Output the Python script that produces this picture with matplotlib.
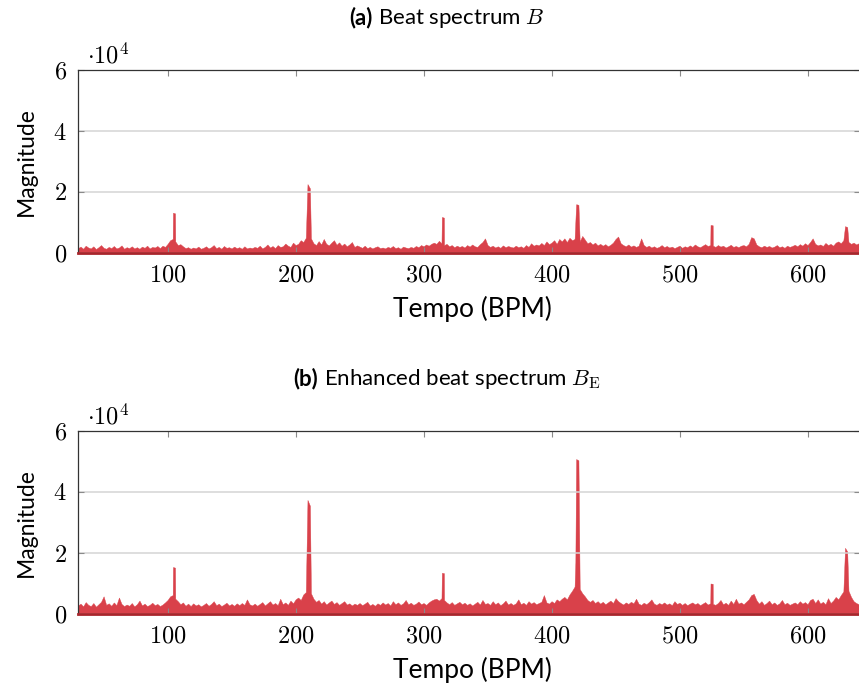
import numpy as np
import matplotlib
matplotlib.use('Agg')
import matplotlib.pyplot as plt
from matplotlib.ticker import FuncFormatter

plt.rcParams['font.family'] = ['Lato', 'DejaVu Sans']
plt.rcParams['mathtext.fontset'] = 'cm'

# tempo grid (BPM) for the noise floor, values in units of 1e3
BPM_START, BPM_STEP = 30, 2

NOISE_A = [
    1.6, 2.1, 1.4, 2.4, 1.8, 1.5, 2.2, 1.3, 1.9, 2.6,
    1.7, 1.4, 2.0, 1.6, 2.3, 1.5, 1.8, 2.5, 1.4, 1.9,
    1.6, 2.2, 1.5, 1.9, 1.4, 2.1, 1.7, 2.4, 1.5, 2.0,
    1.8, 2.3, 1.6, 2.4, 2.0, 3.0, 4.2, 4.6, 3.8, 2.6,
    2.9, 2.2, 1.6, 1.9, 1.4, 1.8, 1.5, 2.1, 1.4, 1.7,
    2.2, 1.5, 1.9, 2.6, 1.6, 2.0, 1.4, 2.3, 1.7, 1.9,
    1.5, 2.1, 1.6, 1.9, 1.4, 2.2, 1.5, 1.8, 1.6, 2.0,
    1.7, 2.4, 1.5, 2.0, 2.8, 1.8, 2.3, 1.6, 2.6, 2.0,
    2.2, 3.1, 2.4, 2.0, 3.4, 2.6, 3.0, 4.2, 3.6, 5.0,
    3.5, 4.8, 3.2, 2.6, 3.9, 2.8, 4.6, 3.0, 2.5, 3.4,
    4.2, 2.7, 3.5, 2.4, 3.1, 2.2, 2.8, 3.6, 2.0, 2.5,
    2.1, 1.7, 2.4, 1.6, 2.0, 1.5, 1.9, 2.2, 1.6, 1.8,
    1.5, 2.0, 1.7, 2.3, 1.6, 1.9, 1.4, 2.1, 1.8, 1.6,
    2.0, 1.7, 2.3, 1.9, 2.6, 2.2, 2.8, 2.4, 3.0, 3.4,
    3.0, 4.0, 3.2, 2.6, 3.0, 2.2, 2.6, 1.9, 2.4, 2.0,
    2.3, 1.8, 2.6, 2.1, 2.8, 2.2, 2.0, 2.9, 3.6, 4.8,
    2.6, 2.0, 2.4, 1.8, 2.2, 1.7, 2.5, 1.9, 2.3, 2.0,
    1.8, 2.4, 1.9, 2.2, 1.7, 2.6, 2.0, 3.2, 2.4, 2.8,
    2.5, 3.3, 2.6, 3.8, 2.9, 3.4, 4.2, 3.0, 4.6, 3.8,
    4.8, 3.6, 5.0, 4.2, 4.6, 4.0, 3.8, 5.6, 4.4, 3.2,
    3.6, 2.8, 3.4, 2.5, 3.0, 2.4, 2.9, 2.2, 2.7, 3.4,
    4.6, 5.4, 3.2, 2.6, 2.2, 2.8, 2.1, 2.5, 2.0, 2.4,
    4.8, 2.6, 2.0, 2.4, 1.8, 2.2, 1.7, 2.0, 2.6, 1.9,
    2.3, 1.8, 2.1, 1.6, 2.0, 2.4, 1.7, 2.2, 1.9, 2.5,
    2.0, 2.8, 2.2, 1.9, 2.4, 2.9, 2.3, 2.6, 2.4, 2.0,
    2.6, 2.1, 2.4, 1.8, 2.2, 2.7, 2.0, 2.3, 1.9, 2.4,
    2.6, 2.2, 3.0, 5.2, 4.8, 2.8, 2.2, 1.9, 2.4, 2.0,
    2.3, 1.8, 2.1, 2.6, 1.9, 2.2, 1.7, 2.4, 2.0, 2.3,
    2.7, 2.2, 2.9, 2.4, 3.2, 2.6, 3.6, 4.8, 3.0, 2.5,
    2.8, 2.3, 3.3, 2.6, 3.0, 2.4, 3.4, 3.8, 3.2, 4.2,
    4.0, 3.6, 3.0, 3.4, 2.8, 3.2,
]

NOISE_B = [
    2.8, 3.4, 2.5, 3.9, 3.0, 2.6, 3.6, 2.4, 3.2, 4.0,
    5.8, 3.0, 3.5, 2.7, 3.8, 2.9, 5.4, 3.3, 2.6, 3.1,
    2.7, 3.6, 2.5, 3.2, 4.4, 2.8, 3.4, 2.6, 3.0, 3.7,
    2.9, 3.3, 2.6, 3.1, 3.8, 4.6, 5.8, 6.2, 5.0, 4.2,
    3.2, 3.8, 2.7, 3.4, 2.6, 3.5, 2.8, 3.2, 2.5, 3.0,
    3.6, 2.7, 3.3, 4.2, 2.9, 3.4, 2.6, 3.1, 3.7, 2.8,
    3.3, 2.7, 3.5, 2.9, 3.6, 3.0, 4.8, 3.2, 2.8, 3.4,
    2.7, 3.3, 3.9, 2.8, 3.5, 4.2, 3.1, 3.6, 2.9, 5.0,
    3.2, 3.8, 3.0, 4.4, 3.5, 4.8, 5.4, 4.6, 6.4, 7.2,
    7.0, 6.8, 5.0, 4.0, 4.6, 3.4, 4.2, 3.1, 3.8, 4.4,
    3.3, 3.9, 3.0, 3.6, 4.2, 3.1, 3.5, 2.8, 3.4, 3.0,
    3.6, 2.9, 3.4, 4.0, 2.8, 3.3, 2.7, 3.5, 3.0, 3.8,
    3.1, 3.6, 2.8, 4.2, 3.2, 3.8, 3.0, 3.5, 4.6, 3.2,
    3.7, 3.0, 3.4, 4.1, 3.2, 3.6, 3.0, 3.8, 4.4, 4.8,
    5.0, 4.4, 5.2, 4.6, 3.8, 3.2, 3.9, 3.0, 3.5, 4.0,
    3.2, 3.7, 3.0, 3.5, 2.8, 3.4, 4.0, 3.1, 4.6, 3.3,
    3.6, 3.0, 4.2, 3.2, 3.8, 2.9, 3.5, 4.4, 3.1, 3.6,
    3.0, 3.5, 4.8, 3.2, 3.7, 3.0, 4.2, 3.4, 3.9, 3.2,
    3.6, 4.0, 6.2, 3.8, 3.4, 4.2, 3.6, 4.8, 4.2, 5.0,
    5.6, 4.8, 6.4, 7.6, 9.0, 8.0, 8.2, 6.8, 5.8, 4.6,
    4.0, 4.6, 3.6, 4.2, 3.4, 4.0, 3.2, 3.8, 4.4, 3.6,
    5.2, 4.2, 3.6, 3.1, 3.8, 3.3, 4.0, 3.5, 5.0, 3.4,
    3.0, 3.7, 3.2, 3.9, 4.8, 3.4, 3.0, 3.6, 3.2, 3.8,
    3.1, 3.5, 2.9, 4.2, 3.3, 3.7, 3.0, 3.6, 2.9, 3.4,
    3.8, 3.2, 3.6, 2.9, 3.4, 3.9, 3.1, 3.5, 3.3, 3.0,
    3.6, 4.6, 3.2, 3.7, 3.0, 4.4, 3.3, 5.0, 3.4, 3.8,
    3.2, 4.0, 4.8, 6.2, 6.6, 4.6, 3.4, 4.2, 3.0, 3.6,
    4.4, 3.2, 3.8, 3.0, 3.5, 4.6, 3.2, 3.7, 3.0, 3.4,
    3.8, 3.2, 4.2, 3.4, 3.9, 3.2, 4.6, 5.0, 3.6, 4.8,
    3.4, 4.0, 3.2, 5.2, 3.6, 4.4, 5.6, 4.8, 6.2, 7.4,
    8.0, 7.6, 5.6, 4.2, 3.6, 3.2,
]

# narrow peaks at multiples of ~105 BPM (edges of each spike), units of 1e3
PEAK_BPM_A = [104.2, 105.8, 209.3, 211.2, 314.3, 315.9, 419.2, 421.0, 524.2, 525.9, 629.3, 631.0]
PEAK_VAL_A = [13.2, 13.0, 22.6, 21.2, 11.8, 11.6, 16.0, 15.8, 9.2, 9.1, 8.8, 8.5]

PEAK_BPM_B = [104.2, 105.8, 209.3, 211.2, 314.3, 315.9, 418.6, 419.2, 421.0, 524.2, 525.9, 629.3, 631.0]
PEAK_VAL_B = [15.4, 15.2, 37.4, 35.5, 13.5, 13.4, 17.0, 50.8, 50.4, 10.0, 9.9, 21.7, 20.5]

XTICKS = [100, 200, 300, 400, 500, 600]
YTICKS = [0, 2, 4, 6]

FILL = '#d9414a'
DARK = '#a8252b'


def build(noise, pk_bpm, pk_val):
    bpm = BPM_START + BPM_STEP * np.arange(len(noise))
    val = np.array(noise, dtype=float)
    pk_bpm = np.array(pk_bpm)
    keep = np.ones(len(bpm), bool)
    for i in range(0, len(pk_bpm) - 1):
        lo, hi = pk_bpm[i], pk_bpm[i + 1]
        if hi - lo < 3:
            keep &= ~((bpm > lo) & (bpm < hi))
    x = np.concatenate([bpm[keep], pk_bpm])
    y = np.concatenate([val[keep], pk_val])
    o = np.argsort(x)
    return x[o], y[o] / 10.0   # -> units of 1e4


W, H = 859, 690
fig = plt.figure(figsize=(W / 100, H / 100), dpi=100)

def px_axes(l, t, r, b):
    return fig.add_axes([l / W, 1 - b / H, (r - l) / W, (b - t) / H])

fmt = FuncFormatter(lambda v, p: f'${v:g}$')

panels = [
    (px_axes(78, 70, 860, 253), NOISE_A, PEAK_BPM_A, PEAK_VAL_A, '(a)', 'Beat spectrum $B$', 18),
    (px_axes(78, 431, 860, 614), NOISE_B, PEAK_BPM_B, PEAK_VAL_B, '(b)', r'Enhanced beat spectrum $B_{\mathrm{E}}$', 379),
]

renderer = fig.canvas.get_renderer()
for ax, noise, pb, pv, tag, title, ty in panels:
    x, y = build(noise, pb, pv)
    ax.fill_between(x, 0, y, color=FILL, lw=0.3, edgecolor=FILL)
    ax.set_xlim(30, 641)
    ax.set_ylim(0, 6)
    ax.set_xticks(XTICKS)
    ax.set_yticks(YTICKS)
    ax.xaxis.set_major_formatter(fmt)
    ax.yaxis.set_major_formatter(fmt)
    ax.tick_params(direction='in', length=4, width=0.8, color='#8a8a8a',
                   top=True, right=True, labelsize=17.5)
    ax.tick_params(axis='x', pad=8)
    ax.tick_params(axis='y', pad=8)
    ax.grid(axis='y', color='#d4d4d4', lw=1.1)
    ax.spines['right'].set_visible(False)
    for s in ['top', 'left']:
        ax.spines[s].set_color('#333333')
        ax.spines[s].set_linewidth(0.9)
    ax.spines['bottom'].set_color(DARK)
    ax.spines['bottom'].set_linewidth(2.0)
    ax.set_xlabel('Tempo (BPM)', fontsize=19)
    ax.set_ylabel('Magnitude', fontsize=16.5)
    ax.xaxis.set_label_coords((472 - 78) / 782, -0.232)
    ax.yaxis.set_label_coords(-0.053, 0.5)

    # exponent label
    bb = ax.get_position()
    fig.text(bb.x0 + 9 / W, bb.y1 + 7 / H, r'$\cdot 10^4$', fontsize=17.5, ha='left', va='baseline')

    # title: bold tag + normal text, centred together
    t1 = fig.text(0, 1 - ty / H, tag, fontsize=16, fontweight='bold', va='center')
    t2 = fig.text(0, 1 - ty / H, title, fontsize=16, va='center')
    w1 = t1.get_window_extent(renderer).width
    w2 = t2.get_window_extent(renderer).width
    gap = 6
    x0 = 447 - (w1 + gap + w2) / 2
    t1.set_x(x0 / W)
    t2.set_x((x0 + w1 + gap) / W)

fig.savefig('out.png', dpi=100)
